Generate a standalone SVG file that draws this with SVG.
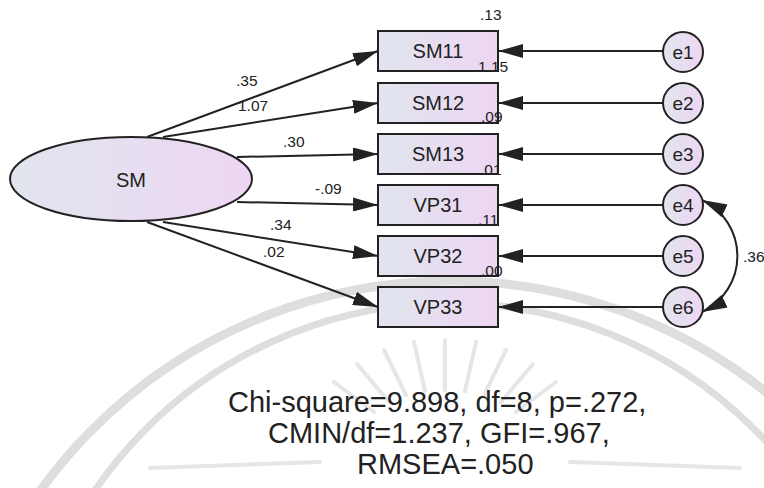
<svg xmlns="http://www.w3.org/2000/svg" width="764" height="488" viewBox="0 0 764 488">
<style>
.lbl{font-family:"Liberation Sans",Arial,sans-serif;font-size:15.5px;fill:#222}
.nt{font-family:"Liberation Sans",Arial,sans-serif;font-size:20px;fill:#222;text-anchor:middle;dominant-baseline:central}
.et{font-family:"Liberation Sans",Arial,sans-serif;font-size:19px;fill:#222;text-anchor:middle;dominant-baseline:central}
.ft{font-family:"Liberation Sans",Arial,sans-serif;font-size:29px;fill:#222}
.box{fill:url(#g);stroke:#222;stroke-width:2}
.fill{fill:url(#g);stroke:none}
.edge{fill:none;stroke:#222;stroke-width:2}
.line{stroke:#222;stroke-width:2;fill:none}
</style>
<defs>
<linearGradient id="g" x1="0" y1="0" x2="1" y2="0">
<stop offset="0" stop-color="#e1e5ee"/>
<stop offset="1" stop-color="#edd6f3"/>
</linearGradient>
<marker id="ah" markerWidth="25" markerHeight="14" refX="25" refY="7" orient="auto-start-reverse" markerUnits="userSpaceOnUse">
<path d="M0,0 L25,7 L0,14 Z" fill="#222"/>
</marker>
</defs>
<rect width="764" height="488" fill="#fff"/>
<g id="watermark" fill="none" stroke="#dedede">
<circle cx="450" cy="786" r="505" stroke-width="9"/>
<circle cx="450" cy="733" r="430" stroke-width="7"/>
<g stroke="#e6e6e6" stroke-width="4" stroke-linecap="round">
<line x1="445" y1="390" x2="445" y2="340"/>
<line x1="465" y1="391" x2="476" y2="342"/>
<line x1="425" y1="391" x2="414" y2="342"/>
<line x1="484" y1="395" x2="506" y2="350"/>
<line x1="406" y1="395" x2="384" y2="350"/>
<line x1="501" y1="402" x2="533" y2="364"/>
<line x1="389" y1="402" x2="357" y2="364"/>
<line x1="516" y1="412" x2="556" y2="382"/>
<line x1="374" y1="412" x2="334" y2="382"/>
<line x1="150" y1="468" x2="320" y2="462"/>
<line x1="570" y1="462" x2="740" y2="468"/>
</g>
</g>
<g id="connectors">
<line class="line" x1="147" y1="137" x2="378" y2="51" marker-end="url(#ah)"/>
<line class="line" x1="163" y1="137" x2="378" y2="103" marker-end="url(#ah)"/>
<line class="line" x1="237" y1="157" x2="378" y2="154" marker-end="url(#ah)"/>
<line class="line" x1="237" y1="202" x2="378" y2="205" marker-end="url(#ah)"/>
<line class="line" x1="163" y1="222" x2="378" y2="256" marker-end="url(#ah)"/>
<line class="line" x1="147" y1="222" x2="378" y2="307" marker-end="url(#ah)"/>
<line class="line" x1="663" y1="51" x2="498" y2="51" marker-end="url(#ah)"/>
<line class="line" x1="663" y1="103" x2="498" y2="103" marker-end="url(#ah)"/>
<line class="line" x1="663" y1="154" x2="498" y2="154" marker-end="url(#ah)"/>
<line class="line" x1="663" y1="205" x2="498" y2="205" marker-end="url(#ah)"/>
<line class="line" x1="663" y1="256" x2="498" y2="256" marker-end="url(#ah)"/>
<line class="line" x1="663" y1="307" x2="498" y2="307" marker-end="url(#ah)"/>
<path class="line" d="M702,200 A62,62 0 0 1 702,312" marker-start="url(#ah)" marker-end="url(#ah)"/>
<text class="lbl" x="236" y="86">.35</text>
<text class="lbl" x="238" y="111">1.07</text>
<text class="lbl" x="283" y="147">.30</text>
<text class="lbl" x="315" y="194">-.09</text>
<text class="lbl" x="270" y="230">.34</text>
<text class="lbl" x="263" y="257">.02</text>
<text class="lbl" x="743" y="262">.36</text>
</g>
<g id="SM">
<ellipse class="box" cx="131" cy="179" rx="121" ry="42"/>
<text class="nt" x="131" y="180">SM</text>
</g>
<g id="SM11"><rect class="fill" x="378" y="31" width="120" height="40"/><text class="nt" x="438" y="51">SM11</text><text class="lbl" x="480" y="20">.13</text><text class="lbl" x="478" y="72">1.15</text><rect class="edge" x="378" y="31" width="120" height="40"/></g>
<g id="SM12"><rect class="fill" x="378" y="83" width="120" height="40"/><text class="nt" x="438" y="103">SM12</text><text class="lbl" x="481" y="122">.09</text><rect class="edge" x="378" y="83" width="120" height="40"/></g>
<g id="SM13"><rect class="fill" x="378" y="134" width="120" height="40"/><text class="nt" x="438" y="154">SM13</text><text class="lbl" x="480" y="175">.01</text><rect class="edge" x="378" y="134" width="120" height="40"/></g>
<g id="VP31"><rect class="fill" x="378" y="185" width="120" height="40"/><text class="nt" x="438" y="205">VP31</text><text class="lbl" x="478" y="225">.11</text><rect class="edge" x="378" y="185" width="120" height="40"/></g>
<g id="VP32"><rect class="fill" x="378" y="236" width="120" height="40"/><text class="nt" x="438" y="256">VP32</text><text class="lbl" x="481" y="276">.00</text><rect class="edge" x="378" y="236" width="120" height="40"/></g>
<g id="VP33"><rect class="box" x="378" y="287" width="120" height="40"/><text class="nt" x="438" y="307">VP33</text></g>
<g id="e1"><circle class="box" cx="683" cy="52" r="20"/><text class="et" x="683" y="52">e1</text></g>
<g id="e2"><circle class="box" cx="683" cy="103" r="20"/><text class="et" x="683" y="103">e2</text></g>
<g id="e3"><circle class="box" cx="683" cy="154" r="20"/><text class="et" x="683" y="154">e3</text></g>
<g id="e4"><circle class="box" cx="683" cy="205" r="20"/><text class="et" x="683" y="205">e4</text></g>
<g id="e5"><circle class="box" cx="683" cy="256" r="20"/><text class="et" x="683" y="256">e5</text></g>
<g id="e6"><circle class="box" cx="683" cy="307" r="20"/><text class="et" x="683" y="307">e6</text></g>
<g id="fit">
<text class="ft" x="228" y="412">Chi-square=9.898, df=8, p=.272,</text>
<text class="ft" x="268" y="443">CMIN/df=1.237, GFI=.967,</text>
<text class="ft" x="357" y="474">RMSEA=.050</text>
</g>
</svg>
